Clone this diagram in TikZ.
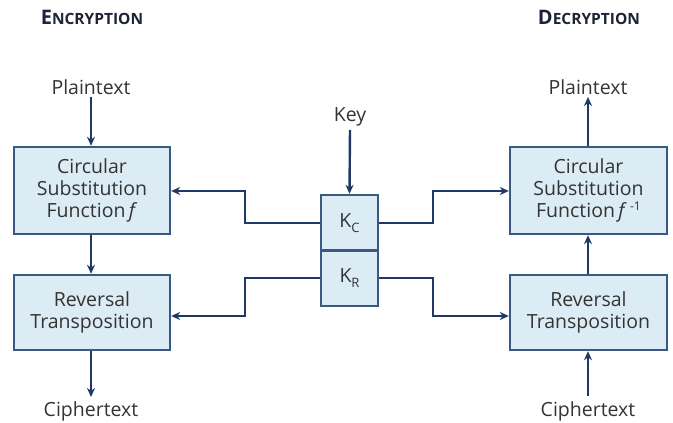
\documentclass[tikz,border=0pt]{standalone}
\usepackage{fontspec}
\setmainfont{Open Sans}
\usetikzlibrary{arrows.meta}
\definecolor{boxfill}{HTML}{DBECF4}
\definecolor{boxdraw}{HTML}{3A5A85}
\definecolor{arrowc}{HTML}{1F3864}
\definecolor{txt}{HTML}{333333}
\definecolor{ttl}{HTML}{1E2436}
\tikzset{
  blk/.style={draw=boxdraw, fill=boxfill, line width=2.4pt, align=center, text=txt, font=\fontsize{19.5}{22}\selectfont, inner sep=0pt},
  lbl/.style={text=txt, font=\fontsize{19.5}{22}\selectfont, inner sep=0pt},
  ttlnode/.style={text=ttl, font=\bfseries, inner sep=0pt},
  conn/.style={draw=arrowc, line width=2.4pt},
  arr/.style={conn, -{Stealth[length=9pt,width=8pt]}},
}
\newcommand{\smallcapsttl}[2]{{\fontsize{20}{22}\selectfont #1}{\fontsize{15.5}{22}\selectfont #2}}
\begin{document}
\begin{tikzpicture}[x=1pt,y=-1pt]
\useasboundingbox (0,0) rectangle (673,423);
% titles
\node[ttlnode] (tenc) at (92,17) {\smallcapsttl{E}{NCRYPTION}};
\node[ttlnode] (tdec) at (589,17) {\smallcapsttl{D}{ECRYPTION}};
% boxes
\node[blk, minimum width=156pt, minimum height=87pt] (csl) at (92,190.5) {Circular\\Substitution\\Function\,\textit{f}};
\node[blk, minimum width=156pt, minimum height=75pt] (rtl) at (92,312.5) {Reversal\\Transposition};
\node[blk, minimum width=157pt, minimum height=87pt] (csr) at (588.5,190.5) {Circular\\Substitution\\Function\,\textit{f}\,\raisebox{0.7ex}{\fontsize{12}{12}\selectfont -1}};
\node[blk, minimum width=57pt, minimum height=55.5pt] (kc) at (349.5,222.75) {K\raisebox{-0.5ex}{\fontsize{13}{13}\selectfont C}};
\node[blk, minimum width=57pt, minimum height=55.5pt] (kr) at (349.5,278.25) {K\raisebox{-0.5ex}{\fontsize{13}{13}\selectfont R}};
\node[blk, minimum width=157pt, minimum height=75pt] (rtr) at (588.5,312.5) {Reversal\\Transposition};
% labels
\node[lbl] (ptl) at (91,87) {Plaintext};
\node[lbl] (ctl) at (91,411) {Ciphertext};
\node[lbl] (ptr) at (588,87) {Plaintext};
\node[lbl] (ctr) at (588,411) {Ciphertext};
\node[lbl] (key) at (350,117) {Key};
% vertical arrows
\draw[arr] (91,97) -- (csl.north -| 91,0);
\draw[arr] (csl.south -| 91,0) -- (rtl.north -| 91,0);
\draw[arr] (rtl.south -| 91,0) -- (91,397);
\draw[arr] (csr.north -| 588,0) -- (588,97);
\draw[arr] (rtr.north -| 588,0) -- (csr.south -| 588,0);
\draw[arr] (588,396) -- (rtr.south -| 588,0);
\draw[arr] (key.south |- 0,130) -- (kc.north);
% key connectors
\draw[arr] (kc.west) -- (245,222.75) -- (245,191) -- (csl.east |- 0,191);
\draw[arr] (kc.east) -- (433,222.75) -- (433,191) -- (csr.west |- 0,191);
\draw[arr] (kr.west) -- (245,278.25) -- (245,316) -- (rtl.east |- 0,316);
\draw[arr] (kr.east) -- (433,278.25) -- (433,316) -- (rtr.west |- 0,316);
\end{tikzpicture}
\end{document}
